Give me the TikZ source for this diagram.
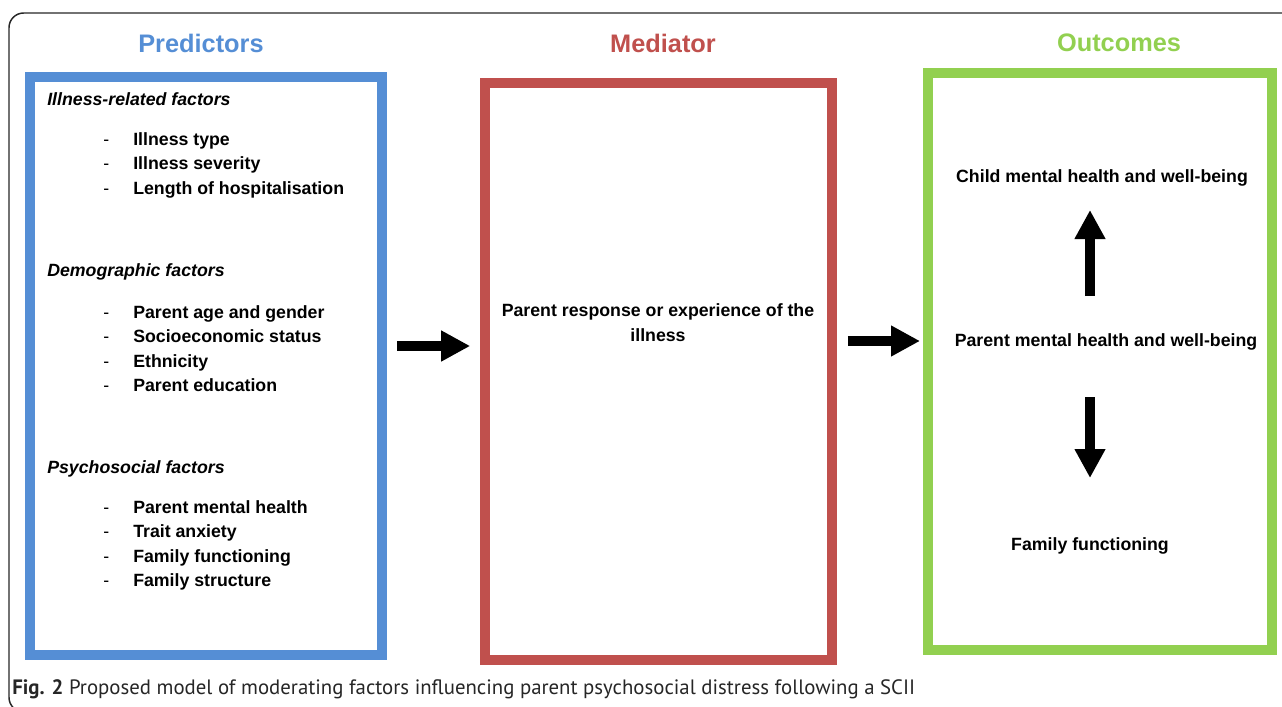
\documentclass[tikz,border=0pt]{standalone}
\usepackage{fontspec}
\setmainfont{Liberation Sans}
\newfontfamily\capfont{PT Sans}
\usetikzlibrary{arrows.meta,positioning}
\definecolor{predblue}{RGB}{85,142,213}
\definecolor{medred}{RGB}{192,80,77}
\definecolor{outgreen}{RGB}{146,208,80}
\newcommand{\itm}[1]{\makebox[22.5pt][l]{\mdseries -}#1}

\begin{document}
\begin{tikzpicture}[x=0.75pt,y=-0.75pt,font=\fontsize{13.3}{18.4}\selectfont\bfseries,
  box/.style={draw,line width=7.5pt,minimum width=260pt,minimum height=433pt},
  ttl/.style={font=\fontsize{19}{22}\selectfont\bfseries},
  txt/.style={inner sep=0pt},
  bigarr/.style={-{Triangle[length=21.75pt,width=21.75pt]},line width=7.5pt}]
\useasboundingbox (0,0) rectangle (1282,707);
\clip (0,0) rectangle (1282,707);
\draw[line width=1.1pt,black!85,rounded corners=11pt] (9,13) rectangle (1320,712);
% the three columns
\node[box,draw=predblue,minimum width=264pt,minimum height=433.5pt] (pred) at (206,366) {};
\node[box,draw=medred] (med) at (658.5,371.5) {};
\node[box,draw=outgreen,minimum width=258pt] (outc) at (1100,361.5) {};
\node[ttl,text=predblue] (predttl) at (201,43) {Predictors};
\node[ttl,text=medred] (medttl) at (663,43) {Mediator};
\node[ttl,text=outgreen] (outcttl) at (1119,43) {Outcomes};
% predictors
\node[txt,anchor=west] (illhead) at (47,99) {\itshape Illness-related factors};
\node[txt,anchor=west,align=left] (illlist) at (103,165) {\itm{Illness type}\\\itm{Illness severity}\\\itm{Length of hospitalisation}};
\node[txt,anchor=west] (demohead) at (47,272) {\itshape Demographic factors};
\node[txt,anchor=west,align=left] (demolist) at (103,348.5) {\itm{Parent age and gender}\\\itm{Socioeconomic status}\\\itm{Ethnicity}\\\itm{Parent education}};
\node[txt,anchor=west] (psyhead) at (47,469) {\itshape Psychosocial factors};
\node[txt,anchor=west,align=left] (psylist) at (103,545.5) {\itm{Parent mental health}\\\itm{Trait anxiety}\\\itm{Family functioning}\\\itm{Family structure}};
% mediator and outcomes
\node[txt,align=center] (resp) at (658,322.5) {Parent response or experience of the\\illness};
\node[txt] (child) at (1102,178) {Child mental health and well-being};
\node[txt] (parent) at (1106,342) {Parent mental health and well-being};
\node[txt] (fam) at (1090,546) {Family functioning};
\coordinate (lvl) at (0,346);
\coordinate (lvr) at (0,341);
\draw[bigarr,shorten <=7.5pt,shorten >=7.5pt] (pred.east |- lvl) -- (med.west |- lvl);
\draw[bigarr,shorten <=8.25pt,shorten >=2.25pt] (med.east |- lvr) -- (outc.west |- lvr);
\draw[bigarr,shorten <=34.5pt,shorten >=24pt] (parent.center -| fam) -- (child.center -| fam);
\draw[bigarr,shorten <=41.25pt,shorten >=51pt] (parent.center -| fam) -- (fam.center);
% caption
\node[txt,anchor=west,font=\capfont\fontsize{15.6}{18}\selectfont,text=black!85] (cap) at (12,689) {\textbf{Fig. 2} Proposed model of moderating factors influencing parent psychosocial distress following a SCII};
\end{tikzpicture}
\end{document}
